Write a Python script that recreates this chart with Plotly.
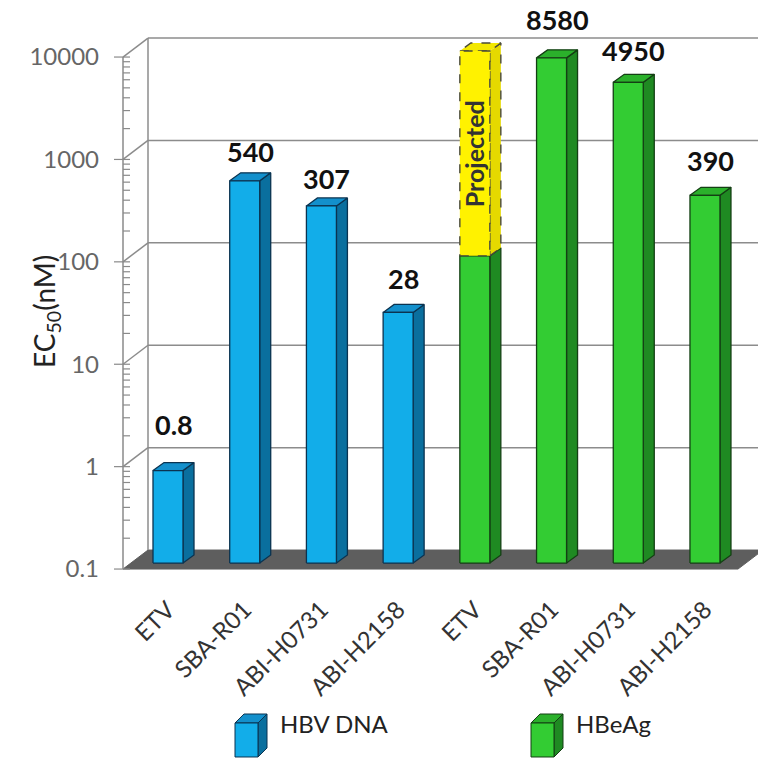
import math
import plotly.graph_objects as go

# ---- data -------------------------------------------------------------
categories = ["ETV", "SBA-R01", "ABI-H0731", "ABI-H2158",
              "ETV", "SBA-R01", "ABI-H0731", "ABI-H2158"]
hbv_dna = [0.8, 540, 307, 28]          # EC50 (nM), HBV DNA
hbeag = [100, 8580, 4950, 390]         # EC50 (nM), HBeAg
hbeag_etv_projected = 10000            # projected EC50 for ETV on HBeAg
hbeag_labelled = [False, True, True, True]
y_ticks = [0.1, 1, 10, 100, 1000, 10000]
y_tick_text = ["0.1", "1", "10", "100", "1000", "10000"]

# ---- pseudo-3D geometry (pixel based) ---------------------------------
W, H = 758, 760
ML, MR, MT, MB = 100, 0, 0, 170
PX_X = 76.71            # pixels per category
PX_DEC = 102.4          # pixels per decade
PLOT_W = W - ML - MR
PLOT_H = H - MT - MB
X0_PX = 168             # pixel position of first category centre
x_range = [(ML - X0_PX) / PX_X, (W - MR - X0_PX) / PX_X]
y_top = 4.557
y_range = [y_top - PLOT_H / PX_DEC, y_top]


def dxu(px):
    return px / PX_X


def fac(px):
    return 10 ** (px / PX_DEC)


axis_x = (123 - X0_PX) / PX_X
floor_right = (738 - X0_PX) / PX_X
depth_dx, depth_f = dxu(25), fac(19)
half_w = dxu(15)
bar_dx, bar_f = dxu(11), fac(8)
lift = fac(6)
y_min, y_max = y_ticks[0], y_ticks[-1]

GRID = "#8c8c8c"
BLUE = dict(front="#12ADE9", side="#0A6F9E", top="#1390CC", edge="#0B3350")
GREEN = dict(front="#33CC33", side="#1F8A22", top="#2BB02B", edge="#143F14")
YELLOW = dict(front="#FFF200", side="#E5D900", top="#F3E800", edge="#4a4a3a")

fig = go.Figure()


def poly(xs, ys, fill, edge, width=1.3, dash="solid"):
    fig.add_trace(go.Scatter(
        x=list(xs) + [xs[0]], y=list(ys) + [ys[0]], mode="lines",
        fill="toself", fillcolor=fill,
        line=dict(color=edge, width=width, dash=dash),
        hoverinfo="skip", showlegend=False))


def line(xs, ys, color=GRID, width=1.5):
    fig.add_trace(go.Scatter(
        x=xs, y=ys, mode="lines", line=dict(color=color, width=width),
        hoverinfo="skip", showlegend=False))


# floor
poly([axis_x, floor_right, floor_right + depth_dx, axis_x + depth_dx],
     [y_min, y_min, y_min * depth_f, y_min * depth_f], "#5e5e5e", "#5e5e5e", 1)

# back wall: left edge, gridlines and connectors to the front axis
back_x = axis_x + depth_dx
line([back_x, back_x], [y_min * depth_f, y_max * depth_f])
for d in y_ticks[1:]:
    line([back_x, x_range[1] + 0.5], [d * depth_f, d * depth_f])
    line([axis_x, back_x], [d, d * depth_f])

# front value axis with major and minor ticks
line([axis_x, axis_x], [y_min, y_max], "#8a8a8a", 1.5)
tx, ty = [], []
for d in y_ticks:
    tx += [axis_x - dxu(9), axis_x + dxu(7), None]
    ty += [d, d, None]
for d in y_ticks[:-1]:
    for m in range(2, 10):
        tx += [axis_x, axis_x + dxu(7), None]
        ty += [d * m, d * m, None]
fig.add_trace(go.Scatter(x=tx, y=ty, mode="lines",
                         line=dict(color="#8a8a8a", width=1.2),
                         hoverinfo="skip", showlegend=False))


def bar3d(xc, lo, hi, col, width=1.3, dash="solid"):
    xl, xr = xc - half_w, xc + half_w
    poly([xr, xr + bar_dx, xr + bar_dx, xr],
         [lo, lo * bar_f, hi * bar_f, hi], col["side"], col["edge"], width, dash)
    poly([xl, xr, xr + bar_dx, xl + bar_dx],
         [hi, hi, hi * bar_f, hi * bar_f], col["top"], col["edge"], width, dash)
    poly([xl, xr, xr, xl], [lo, lo, hi, hi], col["front"], col["edge"], width, dash)


base = y_min * lift
series = [(hbv_dna, BLUE, [True] * len(hbv_dna)), (hbeag, GREEN, hbeag_labelled)]
label_gap = [20, 3, 1, 7, 0, 12, 5, 8]
idx = 0
for values, col, show in series:
    for k, v in enumerate(values):
        bar3d(idx, base, v * lift, col)
        if idx == 4:
            bar3d(idx, v * lift, hbeag_etv_projected * lift, YELLOW, 1.4, "dash")
            fig.add_annotation(
                x=idx, y=math.log10(math.sqrt(v * hbeag_etv_projected) * lift),
                text="<b>Projected</b>", showarrow=False, textangle=-90,
                font=dict(family="Lato", size=25, color="#333333"))
        if show[k]:
            fig.add_annotation(
                x=idx + bar_dx / 2, y=math.log10(v * lift * bar_f),
                text=f"<b>{v:g}</b>", showarrow=False, yanchor="bottom",
                yshift=label_gap[idx],
                font=dict(family="Lato", size=27, color="#111111"))
        idx += 1


# ---- axis title and legend --------------------------------------------
def paper(xp, yp):
    return (xp - ML) / PLOT_W, (H - MB - yp) / PLOT_H


ax, ay = paper(25, 312)
fig.add_annotation(xref="paper", yref="paper", x=ax, y=ay,
                   text="EC<sub>50</sub>(nM)", textangle=-90, showarrow=False,
                   font=dict(family="Lato", size=28, color="#222222"))


def cube(x0, y0, fw, fh, d, col):
    def path(pts):
        s = " L ".join(f"{paper(px, py)[0]:.5f},{paper(px, py)[1]:.5f}" for px, py in pts)
        return f"M {s} Z"
    faces = [
        ([(x0 + fw, y0), (x0 + fw + d, y0 - d), (x0 + fw + d, y0 + fh - d),
          (x0 + fw, y0 + fh)], col["side"]),
        ([(x0, y0), (x0 + fw, y0), (x0 + fw + d, y0 - d), (x0 + d, y0 - d)], col["top"]),
        ([(x0, y0), (x0 + fw, y0), (x0 + fw, y0 + fh), (x0, y0 + fh)], col["front"]),
    ]
    for pts, c in faces:
        fig.add_shape(type="path", xref="paper", yref="paper", path=path(pts),
                      fillcolor=c, line=dict(color=col["edge"], width=1))


for (xp, name, col) in [(235, "HBV DNA", BLUE), (531, "HBeAg", GREEN)]:
    cube(xp, 723, 23, 34, 9, col)
    tx_, ty_ = paper(xp + 43, 740)
    fig.add_annotation(xref="paper", yref="paper", x=tx_, y=ty_, text=name,
                       xanchor="left", showarrow=False,
                       font=dict(family="Lato", size=24, color="#222222"))

fig.update_layout(
    width=W, height=H, margin=dict(l=ML, r=MR, t=MT, b=MB),
    paper_bgcolor="white", plot_bgcolor="white", showlegend=False,
    xaxis=dict(range=x_range, tickvals=list(range(len(categories))),
               ticktext=categories, tickangle=-45, showgrid=False,
               zeroline=False, showline=False, ticks="",
               tickfont=dict(family="Lato", size=24, color="#333333")),
    yaxis=dict(type="log", range=y_range, tickvals=y_ticks, ticktext=y_tick_text,
               showgrid=False, zeroline=False, showline=False, ticks="",
               ticklabelstandoff=0,
               tickfont=dict(family="Lato", size=24, color="#666666")),
)

fig.write_html("out.html")
